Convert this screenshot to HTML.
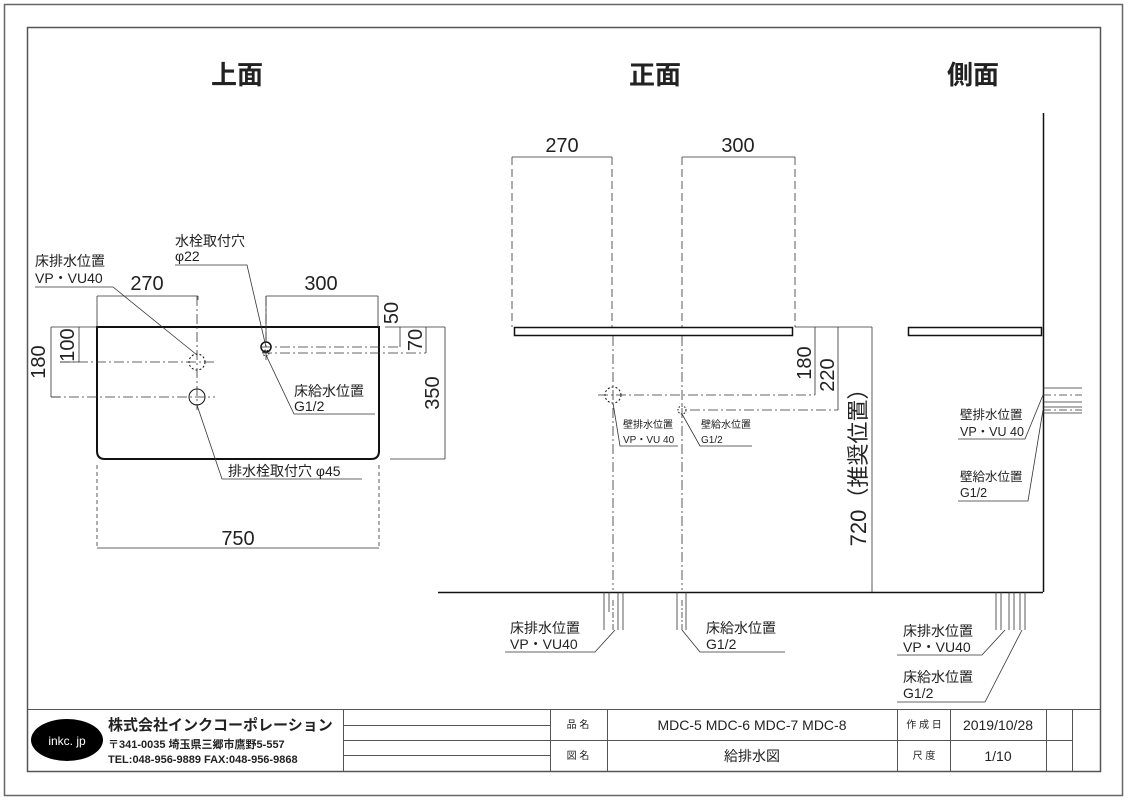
<!DOCTYPE html>
<html><head><meta charset="utf-8"><style>
html,body{margin:0;padding:0;background:#fff}
svg{display:block}
text{font-family:"Liberation Sans","Noto Sans CJK JP",sans-serif;fill:#222}
</style></head><body>
<svg width="1128" height="800" viewBox="0 0 1128 800" xmlns="http://www.w3.org/2000/svg">
<g fill="none" stroke="#222">
<rect x="4.5" y="4.5" width="1118" height="791" stroke="#666" stroke-width="1.5"/>
<rect x="27.5" y="27.5" width="1073" height="744" stroke="#555" stroke-width="1.5"/>
</g>
<g font-size="26" text-anchor="middle" font-weight="bold">
<text x="237" y="84">上面</text><text x="655" y="84">正面</text><text x="973" y="84">側面</text>
</g>

<!-- TOP VIEW -->
<g fill="none" stroke="#111" stroke-width="1">
<path d="M97 327 H379 V451 Q379 459 371 459 H105 Q97 459 97 451 Z" stroke-width="2"/>
<circle cx="197" cy="397" r="8"/>
<circle cx="197" cy="362" r="8" stroke-dasharray="2 2"/>
<circle cx="266" cy="347" r="5" stroke-width="1.5"/>
<circle cx="266" cy="353" r="3" stroke-dasharray="1.5 1.5"/>
</g>
<g fill="none" stroke="#333" stroke-width="0.8">
<path d="M97 296 H198 M97 296 V327 M198 296 V300 M266 296 H378 M266 296 V340 M378 296 V327"/>
<path d="M97 465 V548 M379 465 V548" stroke-dasharray="4 3"/>
<path d="M97 548 H379"/>
<path d="M51 327 V397 M51 327 H90 M79 327 V362 M79 327 H97 M79 362 H60 M51 397 H60"/>
<path d="M60 362 H215 M51 397 H215 M197 296 V410 M266 296 V362 M262 347 H400 M262 353 H426" stroke-dasharray="10 3 2 3"/>
<path d="M400 327 V347 M385 327 H445 M426 327 V353 M445 327 V459 M390 459 H445"/>
<path d="M175 265 H247 L266 347"/>
<path d="M35 287 H113 L197 355"/>
<path d="M375 414 H294 L266 355"/>
<path d="M362 479 H222 L197 405"/>
</g>
<g font-size="20" text-anchor="middle">
<text x="147" y="290">270</text><text x="321" y="290">300</text><text x="238" y="545">750</text>
<text transform="translate(45 362) rotate(-90)">180</text>
<text transform="translate(74 345) rotate(-90)">100</text>
<text transform="translate(398 313) rotate(-90)">50</text>
<text transform="translate(422 340) rotate(-90)">70</text>
<text transform="translate(439 393) rotate(-90)">350</text>
</g>
<g font-size="14">
<text x="175" y="246">水栓取付穴</text><text x="175" y="261">φ22</text>
<text x="35" y="266">床排水位置</text><text x="35" y="283">VP・VU40</text>
<text x="294" y="396">床給水位置</text><text x="294" y="411">G1/2</text>
<text x="228" y="476">排水栓取付穴 φ45</text>
</g>

<!-- FRONT VIEW -->
<g fill="none" stroke="#111">
<rect x="514.5" y="327.5" width="278" height="8" stroke-width="1.5"/>
<path d="M438 592.5 H1043 M1043.5 113 V592" stroke-width="1.5"/>
<circle cx="613" cy="395" r="8" stroke-dasharray="2 2"/>
<circle cx="682" cy="410" r="4" stroke-dasharray="1.5 1.5"/>
</g>
<g fill="none" stroke="#333" stroke-width="0.8">
<path d="M512 157 V327 M612 157 V327 M682 157 V327 M795 157 V327" stroke-dasharray="8 4"/>
<path d="M512 157 H612 M682 157 H795"/>
<path d="M613 336 V590 M682 336 V590 M598 395 H815 M690 410 H838" stroke-dasharray="10 3 2 3"/>
<path d="M795 327 H872 M815 327 V395 M838 327 V410 M872 327 V592"/>
<path d="M613 403 L620 446 H678 M682 414 L700 446 H752"/>
<path d="M604 592 V630 M609 592 V612 M618 592 V630 M623 592 V630 M677 592 V630 M686 592 V630"/>
<path d="M613 600 V630 M682 600 V630" stroke-dasharray="6 2 2 2"/>
<path d="M505 652 H595 L615 630 M785 652 H700 L682 630"/>
</g>
<g font-size="20" text-anchor="middle">
<text x="562" y="152">270</text><text x="738" y="152">300</text>
<text transform="translate(811 363) rotate(-90)">180</text>
<text transform="translate(834 375) rotate(-90)">220</text>
<text transform="translate(866 462) rotate(-90)" font-size="22">720（推奨位置）</text>
</g>
<g font-size="10">
<text x="623" y="428">壁排水位置</text><text x="623" y="443">VP・VU 40</text>
<text x="701" y="428">壁給水位置</text><text x="701" y="443">G1/2</text>
</g>
<g font-size="14">
<text x="510" y="633">床排水位置</text><text x="510" y="649">VP・VU40</text>
<text x="706" y="633">床給水位置</text><text x="706" y="649">G1/2</text>
</g>

<!-- SIDE VIEW -->
<g fill="none" stroke="#111">
<rect x="908.5" y="327.5" width="133" height="8" stroke-width="1.5"/>
</g>
<g fill="none" stroke="#333" stroke-width="0.8">
<path d="M1043 388 H1082 M1043 402 H1082 M1043 407 H1082 M1043 413 H1082"/>
<path d="M1043 395 H1082 M1043 410 H1082" stroke-dasharray="8 3 2 3"/>
<path d="M958 439 H1025 L1043 395 M958 501 H1028 L1043 410"/>
<path d="M996 592 V630 M1001 592 V630 M1009 592 V630 M1014 592 V630 M1020 592 V630 M1025 592 V630"/>
<path d="M897 655 H982 L1005 630 M897 702 H985 L1022 630"/>
</g>
<g font-size="12.5">
<text x="960" y="419">壁排水位置</text><text x="960" y="436">VP・VU 40</text>
<text x="960" y="481">壁給水位置</text><text x="960" y="497">G1/2</text>
</g>
<g font-size="14">
<text x="903" y="636">床排水位置</text><text x="903" y="652">VP・VU40</text>
<text x="903" y="682">床給水位置</text><text x="903" y="698">G1/2</text>
</g>

<!-- TITLE BLOCK -->
<g fill="none" stroke="#555" stroke-width="1">
<path d="M27 709.5 H1100 M343 740.5 H1072 M343 725.5 H550 M343 755.5 H550"/>
<path d="M343.5 709 V771 M550.5 709 V771 M607.5 709 V771 M897.5 709 V771 M950.5 709 V771 M1046.5 709 V771 M1072.5 709 V771"/>
</g>
<ellipse cx="67" cy="740" rx="36" ry="21" fill="#000"/>
<text x="67" y="745" font-size="12" style="fill:#fff" text-anchor="middle">inkc. jp</text>
<text x="108" y="730" font-size="15" font-weight="bold">株式会社インクコーポレーション</text>
<text x="108" y="748" font-size="11" font-weight="bold">〒341-0035 埼玉県三郷市鷹野5-557</text>
<text x="108" y="763" font-size="11" font-weight="bold">TEL:048-956-9889 FAX:048-956-9868</text>
<g font-size="10" text-anchor="middle">
<text x="578" y="728">品 名</text><text x="578" y="759">図 名</text>
<text x="924" y="728">作 成 日</text><text x="924" y="759">尺 度</text>
</g>
<g font-size="14" text-anchor="middle">
<text x="752" y="730">MDC-5  MDC-6  MDC-7  MDC-8</text>
<text x="752" y="761">給排水図</text>
<text x="998" y="730">2019/10/28</text>
<text x="998" y="761">1/10</text>
</g>
</svg>
</body></html>
